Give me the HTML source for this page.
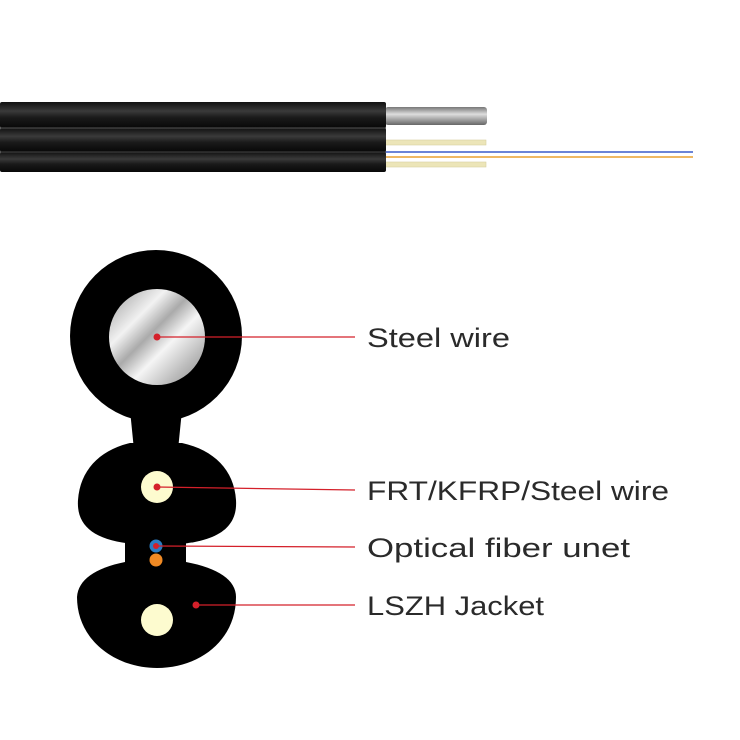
<!DOCTYPE html>
<html><head><meta charset="utf-8"><style>html,body{margin:0;padding:0;background:#fff}svg{display:block}</style></head>
<body>
<svg width="740" height="740" viewBox="0 0 740 740" xmlns="http://www.w3.org/2000/svg">
<defs>
<linearGradient id="jk" x1="0" y1="0" x2="0" y2="1">
<stop offset="0" stop-color="#111"/><stop offset="0.35" stop-color="#3a3a3a"/><stop offset="0.6" stop-color="#1a1a1a"/><stop offset="1" stop-color="#080808"/>
</linearGradient>
<linearGradient id="sw" x1="0" y1="0" x2="0" y2="1">
<stop offset="0" stop-color="#777"/><stop offset="0.4" stop-color="#ddd"/><stop offset="1" stop-color="#666"/>
</linearGradient>
<linearGradient id="st" x1="0" y1="0" x2="1" y2="1">
<stop offset="0" stop-color="#999"/><stop offset="0.3" stop-color="#f2f2f2"/><stop offset="0.45" stop-color="#aaa"/><stop offset="0.6" stop-color="#f5f5f5"/><stop offset="0.8" stop-color="#bbb"/><stop offset="1" stop-color="#888"/>
</linearGradient>
</defs>
<rect x="385" y="107" width="102" height="18" rx="3" fill="url(#sw)"/>
<rect x="385" y="140" width="101" height="5" fill="#ece5b8" stroke="#d8d0a0" stroke-width="0.6"/>
<rect x="385" y="162" width="101" height="5" fill="#ece5b8" stroke="#d8d0a0" stroke-width="0.6"/>
<line x1="385" y1="152" x2="693" y2="152" stroke="#3a5cc8" stroke-width="1.5"/>
<line x1="385" y1="157" x2="693" y2="157" stroke="#e8a030" stroke-width="1.5"/>
<rect x="0" y="102" width="386" height="26" rx="2" fill="url(#jk)"/>
<rect x="0" y="128" width="386" height="24" rx="2" fill="url(#jk)"/>
<rect x="0" y="152" width="386" height="20" rx="2" fill="url(#jk)"/>
<line x1="0" y1="128" x2="386" y2="128" stroke="#555" stroke-width="1"/>
<line x1="0" y1="152" x2="386" y2="152" stroke="#444" stroke-width="1"/>
<circle cx="156" cy="336" r="86" fill="#000"/>
<path d="M130 410 L182 410 L178 450 L134 450 Z" fill="#000"/>
<path d="M130 443 C100 450,80 470,78 500 C76 530,100 545,157 545 C214 545,238 530,236 500 C234 470,214 450,182 443 Z" fill="#000"/>
<rect x="125" y="538" width="61" height="30" fill="#000"/>
<path d="M125 562 C95 568,78 580,77 597 C77 640,115 668,157 668 C200 668,236 640,236 597 C236 580,218 568,186 562 Z" fill="#000"/>
<circle cx="157" cy="337" r="48" fill="url(#st)"/>
<circle cx="157" cy="487" r="16" fill="#fdfbcf"/>
<circle cx="157" cy="620" r="16" fill="#fdfbcf"/>
<circle cx="156" cy="546" r="6.5" fill="#2a7cc4"/>
<circle cx="156" cy="560" r="6.5" fill="#f08a24"/>
<g stroke="#d4202a" stroke-width="1.3">
<line x1="157" y1="337" x2="355" y2="337"/>
<line x1="157" y1="487" x2="355" y2="490"/>
<line x1="157" y1="546" x2="355" y2="547"/>
<line x1="196" y1="605" x2="355" y2="605"/>
</g>
<g fill="#d4202a">
<circle cx="157" cy="337" r="3.5"/><circle cx="157" cy="487" r="3.5"/><circle cx="156" cy="546" r="3"/><circle cx="196" cy="605" r="3.5"/>
</g>
<g font-family="Liberation Sans, DejaVu Sans, sans-serif" font-size="27" fill="#2a2a2a">
<text x="367" y="347" textLength="143" lengthAdjust="spacingAndGlyphs">Steel wire</text>
<text x="367" y="500" textLength="302" lengthAdjust="spacingAndGlyphs">FRT/KFRP/Steel wire</text>
<text x="367" y="557" textLength="263" lengthAdjust="spacingAndGlyphs">Optical fiber unet</text>
<text x="367" y="615" textLength="177" lengthAdjust="spacingAndGlyphs">LSZH Jacket</text>
</g>
</svg>
</body></html>
